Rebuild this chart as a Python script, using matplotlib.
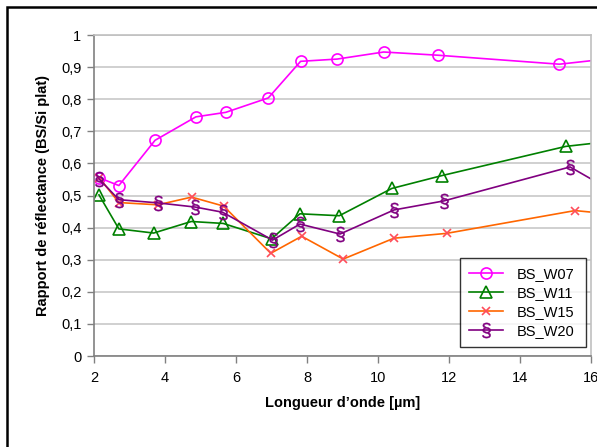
import matplotlib
matplotlib.use("Agg")
import matplotlib.pyplot as plt
from matplotlib.patches import Rectangle

plt.rcParams['font.family'] = ['Liberation Sans', 'DejaVu Sans']
plt.rcParams['mathtext.fontset'] = 'custom'
plt.rcParams['mathtext.rm'] = 'Liberation Sans'

# Data
x_w07 = [2.15, 2.70, 3.72, 4.87, 5.71, 6.91, 7.82, 8.85, 10.16, 11.69, 15.11, 16.5]
y_w07 = [0.555, 0.531, 0.672, 0.745, 0.759, 0.804, 0.918, 0.925, 0.947, 0.937, 0.909, 0.926]

x_w11 = [2.14, 2.70, 3.68, 4.74, 5.64, 7.00, 7.80, 8.91, 10.39, 11.80, 15.29, 16.5]
y_w11 = [0.502, 0.396, 0.383, 0.419, 0.413, 0.365, 0.443, 0.437, 0.522, 0.562, 0.653, 0.668]

x_w15 = [2.15, 2.70, 3.80, 4.75, 5.65, 6.98, 7.85, 9.02, 10.45, 11.93, 15.55, 16.5]
y_w15 = [0.555, 0.478, 0.471, 0.495, 0.467, 0.320, 0.373, 0.302, 0.367, 0.382, 0.453, 0.443]

x_w20 = [2.14, 2.70, 3.80, 4.85, 5.62, 7.03, 7.80, 8.93, 10.45, 11.85, 15.41, 16.5]
y_w20 = [0.552, 0.487, 0.477, 0.464, 0.448, 0.361, 0.411, 0.380, 0.455, 0.483, 0.589, 0.520]

x_ticks = [2, 4, 6, 8, 10, 12, 14, 16]
y_ticks = [0, 0.1, 0.2, 0.3, 0.4, 0.5, 0.6, 0.7, 0.8, 0.9, 1.0]
y_tick_labels = ["0", "0,1", "0,2", "0,3", "0,4", "0,5", "0,6", "0,7", "0,8", "0,9", "1"]

fig = plt.figure(figsize=(5.97, 4.47), dpi=100)
ax = fig.add_axes([94/597, 1 - 356/447, (591 - 94)/597, (356 - 35)/447])

ax.plot(x_w07, y_w07, color='#FF00FF', lw=1.2, marker='o', ms=8, mfc='none', mec='#FF00FF', mew=1.2, label='BS_W07')
ax.plot(x_w11, y_w11, color='#008000', lw=1.2, marker='^', ms=8.5, mfc='none', mec='#008000', mew=1.2, label='BS_W11')
ax.plot(x_w15, y_w15, color='#FF6600', lw=1.2, marker='x', ms=5.5, mec='#FF4D5A', mew=1.2, label='BS_W15')
ax.plot(x_w20, y_w20, color='#800080', lw=1.2, marker='$§$', ms=11, mfc='#800080', mec='#800080', mew=0.3, label='BS_W20')

ax.set_xlim(2, 16)
ax.set_ylim(0, 1)
ax.set_xticks(x_ticks)
ax.set_xticklabels([str(t) for t in x_ticks])
ax.set_yticks(y_ticks)
ax.set_yticklabels(y_tick_labels)
ax.yaxis.grid(True, color='#C8C8C8', lw=1.2)
ax.set_axisbelow(True)

for side in ['left', 'bottom']:
    ax.spines[side].set_color('#808080')
    ax.spines[side].set_linewidth(1.2)
for side in ['top', 'right']:
    ax.spines[side].set_color('#C0C0C0')
    ax.spines[side].set_linewidth(1.2)

ax.tick_params(axis='both', direction='out', length=5, width=1, color='#808080', labelsize=10.5, pad=4)
ax.tick_params(axis='x', pad=6)

ax.set_xlabel("Longueur d\u2019onde [\u00b5m]", fontsize=10.5, fontweight='bold', labelpad=8)
ax.set_ylabel("Rapport de r\u00e9flectance (BS/Si plat)", fontsize=10.5, fontweight='bold', labelpad=8)

leg = ax.legend(loc='lower left', bbox_to_anchor=(0.737, 0.028, 0.253, 0.283), mode='expand',
                fontsize=10.5, frameon=True, fancybox=False, borderaxespad=0,
                handlelength=2.3, handletextpad=1.0, labelspacing=0.35, borderpad=0.6)
leg.get_frame().set_edgecolor('black')
leg.get_frame().set_linewidth(1.0)

fig.patches.append(Rectangle((7/597, -0.2), 1.2, 1.2 - 7/447, transform=fig.transFigure,
                             fill=False, edgecolor='black', lw=1.8, clip_on=False))

fig.savefig('out.png', dpi=100)
